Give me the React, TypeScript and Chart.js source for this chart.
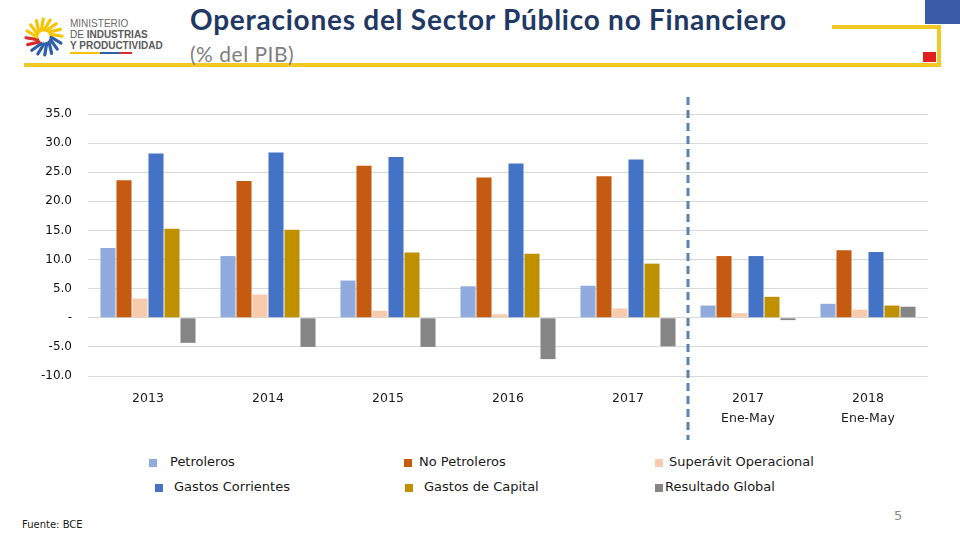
import React, { useEffect, useRef } from 'react';
import { Chart, registerables } from 'chart.js';

Chart.register(...registerables);

// ---- data ----
const categories: (string | string[])[] = ['2013', '2014', '2015', '2016', '2017', ['2017', 'Ene-May'], ['2018', 'Ene-May']];
const petroleros = [12.0, 10.6, 6.4, 5.4, 5.5, 2.1, 2.4];
const noPetroleros = [23.6, 23.5, 26.1, 24.1, 24.3, 10.6, 11.6];
const superavitOperacional = [3.3, 4.0, 1.2, 0.6, 1.6, 0.8, 1.4];
const gastosCorrientes = [28.2, 28.4, 27.6, 26.5, 27.2, 10.6, 11.3];
const gastosCapital = [15.3, 15.1, 11.2, 11.0, 9.3, 3.6, 2.1];
const resultadoGlobal = [-4.3, -5.0, -5.0, -7.1, -4.9, -0.4, 1.9];
const yMin = -10;
const yMax = 35;
const yStep = 5;
const seriesNames = ['Petroleros', 'No Petroleros', 'Superávit Operacional', 'Gastos Corrientes', 'Gastos de Capital', 'Resultado Global'];
const seriesValues = [petroleros, noPetroleros, superavitOperacional, gastosCorrientes, gastosCapital, resultadoGlobal];
const seriesColors = ['#8FAADC', '#C55A11', '#F8CBAD', '#4472C4', '#BF9000', '#858585'];

// legend placement (order matches series)
const legendPos = [
  { sx: 149, tx: 170, y: 463 },
  { sx: 404, tx: 419, y: 463 },
  { sx: 655, tx: 669, y: 463 },
  { sx: 155, tx: 174, y: 488 },
  { sx: 405, tx: 424, y: 488 },
  { sx: 655, tx: 665, y: 488 },
];

const dividerPlugin = {
  id: 'divider',
  afterDraw(chart: any) {
    const x = chart.scales.x;
    const ctx = chart.ctx;
    const px = Math.round((x.getPixelForValue(4) + x.getPixelForValue(5)) / 2);
    ctx.save();
    ctx.strokeStyle = '#5A82AE';
    ctx.lineWidth = 3;
    ctx.setLineDash([8, 5]);
    ctx.beginPath();
    ctx.moveTo(px, chart.chartArea.top - 17);
    ctx.lineTo(px, chart.chartArea.bottom + 64);
    ctx.stroke();
    ctx.restore();
  },
};

function ChartCanvas() {
  const ref = useRef<HTMLCanvasElement | null>(null);
  useEffect(() => {
    if (!ref.current) return;
    const chart = new Chart(ref.current, {
      type: 'bar',
      data: {
        labels: categories,
        datasets: seriesNames.map((name, i) => ({
          label: name,
          data: seriesValues[i],
          backgroundColor: seriesColors[i],
          borderWidth: 0,
          categoryPercentage: 0.8,
          barPercentage: 0.94,
        })),
      },
      options: {
        animation: false,
        responsive: false,
        devicePixelRatio: 1,
        layout: { padding: { top: 24, right: 12, left: 0, bottom: 0 } },
        plugins: { legend: { display: false }, tooltip: { enabled: false } },
        scales: {
          x: {
            grid: { display: false, drawTicks: false },
            border: { display: false },
            ticks: {
              padding: 12,
              color: '#1a1a1a',
              font: { family: 'DejaVu Sans', size: 12.5, lineHeight: 1.65 },
              maxRotation: 0,
              autoSkip: false,
            },
            afterFit(scale: any) {
              scale.height = 74;
            },
          },
          y: {
            min: yMin,
            max: yMax,
            grid: { color: '#d9d9d9', drawTicks: false, lineWidth: 1 },
            border: { display: false },
            ticks: {
              stepSize: yStep,
              padding: 16,
              color: '#111111',
              font: { family: 'DejaVu Sans', size: 12 },
              callback: (v: any) => (Number(v) === 0 ? '-' : Number(v).toFixed(1)),
            },
            afterFit(scale: any) {
              scale.width = 88;
            },
          },
        },
      },
      plugins: [dividerPlugin],
    });
    return () => chart.destroy();
  }, []);
  return <canvas ref={ref} width={940} height={360} style={{ position: 'absolute', left: 0, top: 90 }} />;
}

function Logo() {
  const rays = Array.from({ length: 16 }, (_, i) => i);
  return (
    <svg width={60} height={60} style={{ position: 'absolute', left: 14, top: 8 }} viewBox="0 0 60 60">
      {rays.map((i) => {
        const a = (i / 16) * Math.PI * 2;
        const color = i < 6 ? '#2F5FA8' : i < 8 ? '#D92B2B' : '#F6C400';
        const x1 = 30 + Math.cos(a) * 7;
        const y1 = 29 + Math.sin(a) * 7;
        const x2 = 30 + Math.cos(a + 0.35) * 18;
        const y2 = 29 + Math.sin(a + 0.35) * 18;
        return <line key={i} x1={x1} y1={y1} x2={x2} y2={y2} stroke={color} strokeWidth={3.2} strokeLinecap="round" />;
      })}
      <circle cx={30} cy={29} r={5} fill="#ffffff" />
    </svg>
  );
}

export default function App() {
  const txt: React.CSSProperties = { position: 'absolute', whiteSpace: 'nowrap', lineHeight: 1 };
  return (
    <div style={{ position: 'fixed', left: 0, top: 0, width: 960, height: 540, background: '#ffffff', overflow: 'hidden' }}>
      {/* header decoration */}
      <Logo />
      <div style={{ ...txt, left: 70, top: 19, fontFamily: 'Liberation Sans', fontSize: 10, color: '#6b6b6b' }}>MINISTERIO</div>
      <div style={{ ...txt, left: 70, top: 30, fontFamily: 'Liberation Sans', fontSize: 10, color: '#5a5a5a' }}>
        DE <b>INDUSTRIAS</b>
      </div>
      <div style={{ ...txt, left: 70, top: 41, fontFamily: 'Liberation Sans', fontSize: 10, color: '#5a5a5a', fontWeight: 'bold' }}>
        Y PRODUCTIVIDAD
      </div>
      <div style={{ position: 'absolute', left: 70, top: 52, width: 30, height: 2, background: '#F6C400' }} />
      <div style={{ position: 'absolute', left: 100, top: 52, width: 20, height: 2, background: '#2F5FA8' }} />
      <div style={{ position: 'absolute', left: 120, top: 52, width: 12, height: 2, background: '#D92B2B' }} />

      <div style={{ position: 'absolute', left: 24, top: 63, width: 917, height: 4, background: '#F2C924' }} />
      <div style={{ position: 'absolute', left: 832, top: 25, width: 109, height: 4, background: '#F2C924' }} />
      <div style={{ position: 'absolute', left: 937, top: 25, width: 4, height: 42, background: '#F2C924' }} />
      <div style={{ position: 'absolute', left: 925, top: 0, width: 35, height: 24, background: '#3A5CA8' }} />
      <div style={{ position: 'absolute', left: 923, top: 52, width: 13, height: 10, background: '#E02020' }} />

      <div
        style={{
          ...txt,
          left: 190,
          top: 5,
          fontFamily: 'Lato',
          fontWeight: 'bold',
          fontSize: 28,
          letterSpacing: 0.75,
          color: '#1F3864',
        }}
      >
        Operaciones del Sector Público no Financiero
      </div>
      <div style={{ ...txt, left: 190, top: 43, fontFamily: 'Lato', fontSize: 21, letterSpacing: 0.5, color: '#7F7F7F' }}>
        (% del PIB)
      </div>

      <ChartCanvas />

      {/* legend */}
      {seriesNames.map((name, i) => (
        <React.Fragment key={name}>
          <div
            style={{
              position: 'absolute',
              left: legendPos[i].sx,
              top: legendPos[i].y - 4,
              width: 8,
              height: 8,
              background: seriesColors[i],
            }}
          />
          <div
            style={{
              ...txt,
              left: legendPos[i].tx,
              top: legendPos[i].y - 8,
              fontFamily: 'DejaVu Sans',
              fontSize: 13,
              color: '#1a1a1a',
            }}
          >
            {name}
          </div>
        </React.Fragment>
      ))}

      <div style={{ ...txt, left: 22, top: 520, fontFamily: 'DejaVu Sans', fontSize: 10, color: '#1a1a1a' }}>Fuente: BCE</div>
      <div style={{ ...txt, left: 894, top: 509, fontFamily: 'DejaVu Sans', fontSize: 13, color: '#8a8a8a' }}>5</div>
    </div>
  );
}
